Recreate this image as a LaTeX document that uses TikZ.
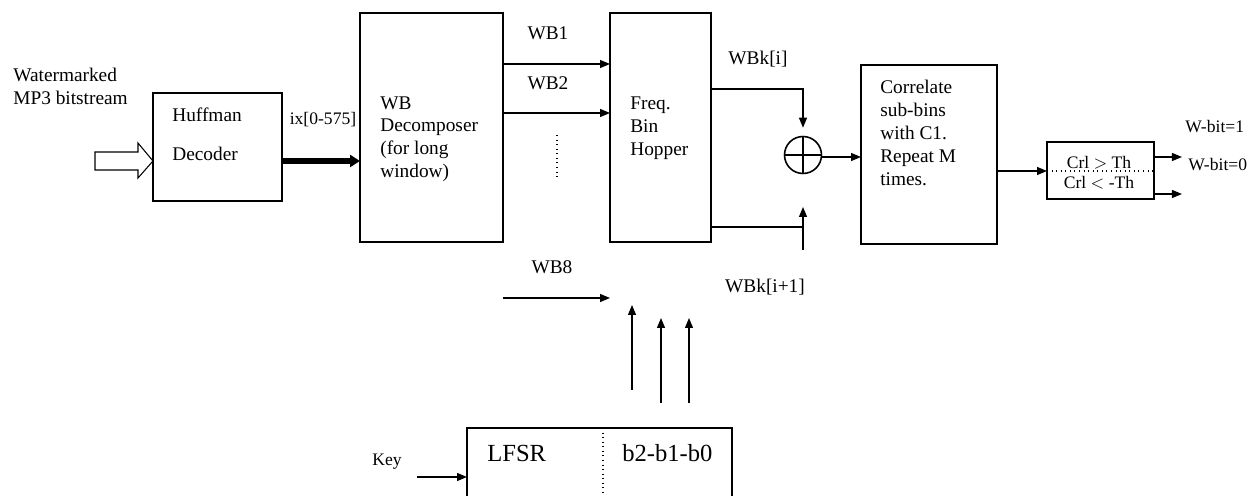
\documentclass[tikz,border=0pt]{standalone}
\usepackage{fontspec}
\setmainfont{Liberation Serif}
\usepackage{tikz}
\usetikzlibrary{positioning,arrows.meta,shapes,calc}

\tikzset{
  blk/.style={draw, line width=0.9pt, anchor=north west, outer sep=0pt, inner sep=0pt},
  txt/.style={inner sep=0pt, font=\fontsize{11}{13}\selectfont, align=left},
  sml/.style={inner sep=0pt, font=\fontsize{10}{12}\selectfont},
  big/.style={inner sep=0pt, font=\fontsize{14}{16}\selectfont},
  con/.style={line width=0.7pt, -{Triangle[length=0.2cm, width=0.16cm]}},
  line/.style={line width=0.7pt}
}

\begin{document}
\begin{tikzpicture}[x=0.02cm, y=-0.02cm]
  \useasboundingbox (0,0) rectangle (1255,496);
  \clip (0,0) rectangle (1255,496);

  % blocks
  \node[blk, minimum width=2.58cm, minimum height=2.16cm] (huff) at (153,93) {};
  \node[blk, minimum width=2.86cm, minimum height=4.58cm] (wbd) at (360,13) {};
  \node[blk, minimum width=2.02cm, minimum height=4.58cm] (hop) at (610,13) {};
  \node[blk, minimum width=2.72cm, minimum height=3.58cm] (corr) at (861,65) {};
  \node[blk, minimum width=2.14cm, minimum height=1.14cm] (thr) at (1047,142) {};
  \node[blk, minimum width=5.30cm, minimum height=1.84cm] (lfsr) at (467,428) {};
  \node[draw, circle, line width=0.9pt, minimum size=0.74cm, inner sep=0pt, outer sep=0pt] (sum) at (803,155) {};
  \draw[line width=0.9pt] (sum.north) -- (sum.south) (sum.west) -- (sum.east);

  % texts
  \node[txt, anchor=west] (wm) at (13,86) {Watermarked\\MP3 bitstream};
  \node[txt, anchor=west] (huffa) at (172,115) {Huffman};
  \node[txt, anchor=west] (huffb) at (172,154) {Decoder};
  \node[txt, anchor=west] (wbdt) at (380,139) {WB\\Decomposer\\(for long\\window)};
  \node[txt, anchor=west] (hopt) at (630,128) {Freq.\\Bin\\Hopper};
  \node[txt, anchor=west] (corrt) at (880,133) {Correlate\\sub-bins\\with C1.\\Repeat M\\times.};
  \node[sml] (thra) at (1099,163) {Crl $>$ Th};
  \node[sml] (thrb) at (1099,183) {Crl $<$ -Th};
  \node[big, anchor=west] (lfsrt) at (487,453) {LFSR};
  \node[big, anchor=west] (bits) at (622,453) {b2-b1-b0};
  \node[sml] (ix) at (323,120) {ix[0-575]};
  \node[txt] (wb1) at (548,33) {WB1};
  \node[txt] (wb2) at (548,83) {WB2};
  \node[txt] (wb8) at (552,267) {WB8};
  \node[txt] (wbki) at (758,59) {WBk[i]};
  \node[txt] (wbkn) at (765,287) {WBk[i+1]};
  \node[sml, anchor=west] (w1) at (1185,127) {W-bit=1};
  \node[sml, anchor=west] (w0) at (1188,165) {W-bit=0};
  \node[sml] (key) at (387,462) {Key};

  % dividers
  \draw[line width=0.6pt, dotted] (thr.west |- 0,171) -- (thr.east |- 0,171);
  \draw[line width=0.6pt, dotted] (lfsr.north -| 603,0) -- (lfsr.south -| 603,0);
  \draw[line width=0.6pt, dotted] (557,135) -- (557,178);

  % input
  \draw[line width=0.6pt] (95,152) -- (138,152) -- (138,143) -- (153,161)
    -- (138,178) -- (138,170) -- (95,170) -- cycle;
  \draw[line width=3pt, -{Triangle[length=0.2cm, width=0.24cm]}]
    (huff.east |- 0,161) -- (wbd.west |- 0,161);

  % bands
  \draw[con] (wbd.east |- 0,64) -- (hop.west |- 0,64);
  \draw[con] (wbd.east |- 0,113) -- (hop.west |- 0,113);
  \draw[con] (wbd.east |- 0,298) -- (hop.west |- 0,298);

  % hopper outputs
  \draw[con, shorten >=5pt] (hop.east |- 0,89) -| (sum.north);
  \draw[line] (hop.east |- 0,227) -- (803,227);
  \coordinate (sumin) at (803,250);
  \draw[con] (sumin) -- ++(0,-43);

  \draw[con] (sum.east |- 0,157) -- (corr.west |- 0,157);
  \draw[con] (corr.east |- 0,171) -- (thr.west |- 0,171);
  \draw[con] (thr.east |- 0,157) -- ++(28,0);
  \draw[con] (thr.east |- 0,194) -- ++(28,0);

  % lfsr bits
  \draw[con] (632,390) -- (632,305);
  \foreach \x in {661,689}
    \draw[con] (\x,403) -- (\x,318);
  \draw[con] (417,477) -- (lfsr.west |- 0,477);
\end{tikzpicture}
\end{document}
